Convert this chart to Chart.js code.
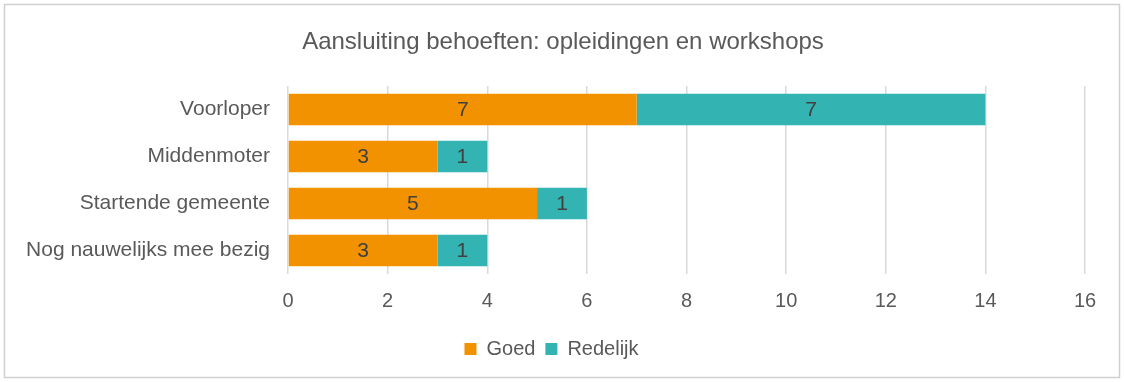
<!DOCTYPE html>
<html lang="nl">
<head>
<meta charset="utf-8">
<title>Aansluiting behoeften</title>
<script src="https://cdn.jsdelivr.net/npm/chart.js@4.4.1/dist/chart.umd.min.js"></script>
<style>
  body { margin: 0; background: #fff; }
  #wrap { position: relative; width: 1124px; height: 382px; }
</style>
<script>
// data
var categories = ['Voorloper', 'Middenmoter', 'Startende gemeente', 'Nog nauwelijks mee bezig'];
var goed = [7, 3, 5, 3];
var redelijk = [7, 1, 1, 1];
var xTicks = [0, 2, 4, 6, 8, 10, 12, 14, 16];
var titleText = 'Aansluiting behoeften: opleidingen en workshops';

var textColor = '#595959';

// white background, light frame, and the title centred on the whole picture
var frame = {
    id: 'frame',
    beforeDraw: function(chart) {
        var c = chart.ctx;
        c.save();
        c.fillStyle = '#fff';
        c.fillRect(0, 0, chart.width, chart.height);
        c.strokeStyle = '#d0d0d0';
        c.lineWidth = 1.5;
        c.strokeRect(4.5, 4.5, chart.width - 9, chart.height - 9);
        c.font = '24px "Liberation Sans", Arial, sans-serif';
        c.fillStyle = textColor;
        c.textAlign = 'center';
        c.textBaseline = 'middle';
        c.fillText(titleText, chart.width / 2 + 1, 42);
        c.restore();
    }
};

// values in the middle of each bar segment
var barValues = {
    id: 'barValues',
    afterDatasetsDraw: function(chart) {
        var c = chart.ctx;
        c.save();
        c.font = '21px "Liberation Sans", Arial, sans-serif';
        c.fillStyle = '#404040';
        c.textAlign = 'center';
        c.textBaseline = 'middle';
        chart.data.datasets.forEach(function(ds, i) {
            chart.getDatasetMeta(i).data.forEach(function(bar, j) {
                var v = ds.data[j];
                if (!v) return;
                var x = (bar.x + bar.base) / 2;
                c.fillText(String(v), x, bar.y + 1);
            });
        });
        c.restore();
    }
};

function go() {
    var ctx = document.getElementById('chart');
    new Chart(ctx, {
        type: 'bar',
        data: {
            labels: categories,
            datasets: [
                { label: 'Goed', data: goed, backgroundColor: '#F39200' },
                { label: 'Redelijk', data: redelijk, backgroundColor: '#33B4B2' }
            ]
        },
        options: {
            indexAxis: 'y',
            responsive: false,
            animation: false,
            layout: { padding: { left: 18, right: 39, top: 86, bottom: 13 } },
            datasets: { bar: { categoryPercentage: 1, barPercentage: 0.67 } },
            scales: {
                x: {
                    stacked: true,
                    min: 0, max: 16,
                    afterBuildTicks: function(s) { s.ticks = xTicks.map(function(v) { return { value: v }; }); },
                    afterFit: function(s) { s.height = 55; },
                    border: { display: false },
                    grid: { color: '#d9d9d9', lineWidth: 1.5, drawTicks: false },
                    ticks: { color: textColor, padding: 15, font: { size: 20 } }
                },
                y: {
                    stacked: true,
                    afterFit: function(s) { s.width = 270; },
                    border: { display: false },
                    grid: { display: false, drawTicks: false },
                    ticks: { color: textColor, padding: 18, font: { size: 21 } }
                }
            },
            plugins: {
                title: { display: false },
                legend: {
                    position: 'bottom',
                    labels: {
                        color: textColor,
                        font: { size: 20 },
                        boxWidth: 12, boxHeight: 12,
                        padding: 10
                    }
                },
                tooltip: { enabled: false }
            }
        },
        plugins: [frame, barValues]
    });
}
</script>
</head>
<body onload="go();">
<div id="wrap">
<canvas id="chart" width="1124" height="382"></canvas>
</div>
<script>
Chart.defaults.font.family = '"Liberation Sans", Arial, sans-serif';
</script>
</body>
</html>
